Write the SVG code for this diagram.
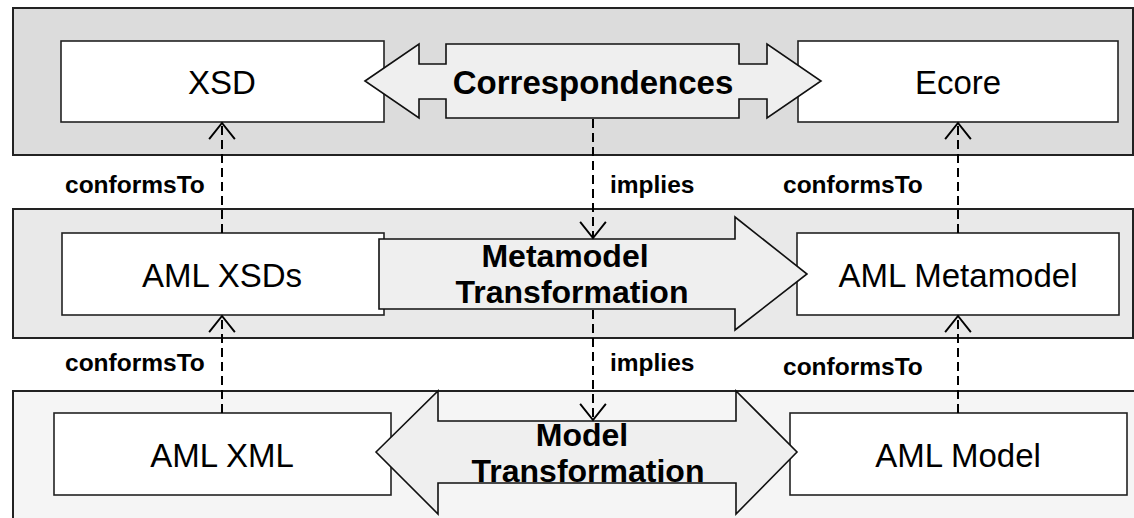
<svg xmlns="http://www.w3.org/2000/svg" width="1134" height="518" viewBox="0 0 1134 518">
  <style>
    .band { stroke: #222; stroke-width: 2; }
    .box { fill: #fff; stroke: #222; stroke-width: 1.6; }
    .big { fill: #efefef; stroke: #111; stroke-width: 1.6; stroke-linejoin: miter; }
    .lbl { font-family: "Liberation Sans", Arial, sans-serif; font-size: 33px; fill: #000; text-anchor: middle; }
    .blbl { font-family: "Liberation Sans", Arial, sans-serif; font-size: 33px; font-weight: bold; fill: #000; text-anchor: middle; }
    .blbl2 { font-family: "Liberation Sans", Arial, sans-serif; font-size: 32px; font-weight: bold; fill: #000; text-anchor: middle; }
    .elbl { font-family: "Liberation Sans", Arial, sans-serif; font-size: 24.5px; font-weight: bold; fill: #000; }
    .dep { fill: none; stroke: #000; stroke-width: 2; stroke-dasharray: 9 5; }
  </style>
  <defs>
    <marker id="open" markerUnits="userSpaceOnUse" markerWidth="30" markerHeight="30" refX="0" refY="0" viewBox="-16 -14 18 28" orient="auto" overflow="visible">
      <path d="M -15 -12 L 0 0 L -15 12" fill="none" stroke="#000" stroke-width="1.8"/>
    </marker>
  </defs>

  <!-- abstraction layers -->
  <g id="layers">
    <rect class="band" x="13" y="8" width="1120" height="147" fill="#dcdcdc"/>
    <rect class="band" x="13" y="209" width="1120" height="129" fill="#e9e9e9"/>
    <rect class="band" x="13" y="391" width="1140" height="150" fill="#f5f5f5"/>
  </g>

  <!-- artefacts -->
  <g id="xsd">
    <rect class="box" x="61" y="41" width="323" height="81"/>
    <text class="lbl" x="222" y="94">XSD</text>
  </g>
  <g id="ecore">
    <rect class="box" x="798" y="41" width="320" height="81"/>
    <text class="lbl" x="958" y="94">Ecore</text>
  </g>
  <g id="aml-xsds">
    <rect class="box" x="62" y="233" width="322" height="82"/>
    <text class="lbl" x="222" y="287">AML XSDs</text>
  </g>
  <g id="aml-metamodel">
    <rect class="box" x="797" y="233" width="322" height="82"/>
    <text class="lbl" x="958" y="287">AML Metamodel</text>
  </g>
  <g id="aml-xml">
    <rect class="box" x="54" y="413" width="337" height="82"/>
    <text class="lbl" x="222" y="467">AML XML</text>
  </g>
  <g id="aml-model">
    <rect class="box" x="790" y="413" width="337" height="82"/>
    <text class="lbl" x="958" y="467">AML Model</text>
  </g>

  <!-- transformations -->
  <g id="correspondences">
    <path class="big" d="M 365 81 L 419 44 L 419 64 L 446 64 L 446 44 L 739 44 L 739 64 L 767 64 L 767 44 L 821 81 L 767 118 L 767 99 L 739 99 L 739 118 L 446 118 L 446 99 L 419 99 L 419 118 Z"/>
    <text class="blbl" x="593" y="94">Correspondences</text>
  </g>
  <g id="metamodel-transformation">
    <path class="big" d="M 379 239 L 735 239 L 735 217 L 807 274 L 735 330 L 735 309 L 379 309 Z"/>
    <text class="blbl2"><tspan x="565" y="267">Metamodel</tspan><tspan x="572" y="303">Transformation</tspan></text>
  </g>
  <g id="model-transformation">
    <path class="big" d="M 376 452 L 438 391 L 438 421 L 736 421 L 736 391 L 797 452 L 736 514 L 736 483 L 438 483 L 438 514 Z"/>
    <text class="blbl2"><tspan x="582" y="446">Model</tspan><tspan x="588" y="482">Transformation</tspan></text>
  </g>

  <!-- dependencies -->
  <g id="connectors">
    <line class="dep" x1="222" y1="233" x2="222" y2="123" marker-end="url(#open)"/>
    <line class="dep" x1="958" y1="233" x2="958" y2="123" marker-end="url(#open)"/>
    <line class="dep" x1="593" y1="119" x2="593" y2="238" marker-end="url(#open)"/>
    <line class="dep" x1="222" y1="413" x2="222" y2="316" marker-end="url(#open)"/>
    <line class="dep" x1="958" y1="413" x2="958" y2="316" marker-end="url(#open)"/>
    <line class="dep" x1="593" y1="310" x2="593" y2="420" marker-end="url(#open)"/>
  </g>

  <g id="connector-labels">
    <text class="elbl" x="65" y="193">conformsTo</text>
    <text class="elbl" x="610" y="193">implies</text>
    <text class="elbl" x="783" y="193">conformsTo</text>
    <text class="elbl" x="65" y="371">conformsTo</text>
    <text class="elbl" x="610" y="371">implies</text>
    <text class="elbl" x="783" y="375">conformsTo</text>
  </g>
</svg>
